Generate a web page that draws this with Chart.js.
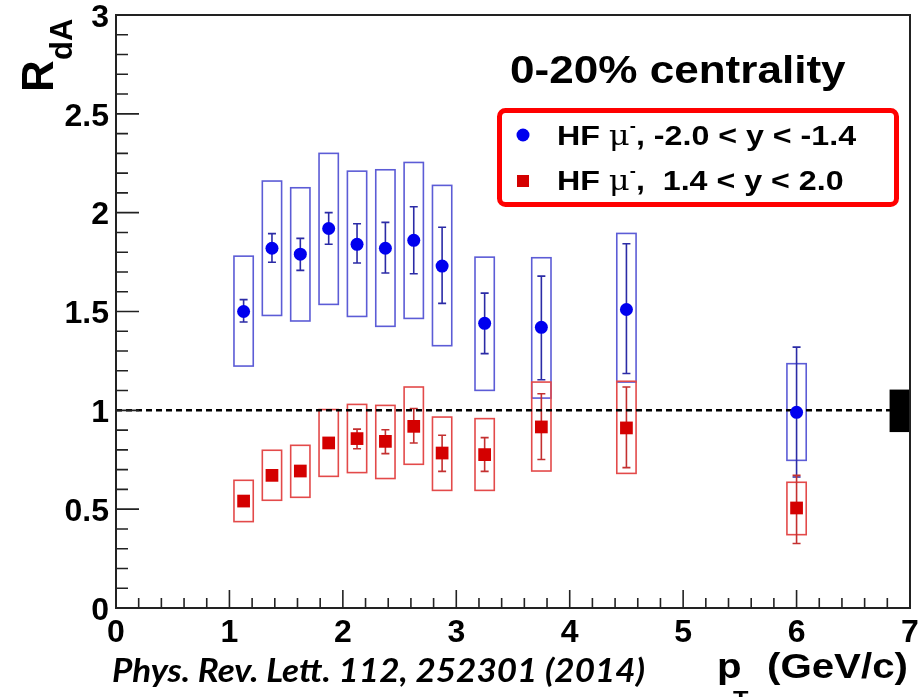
<!DOCTYPE html>
<html>
<head>
<meta charset="utf-8">
<script src="https://cdn.jsdelivr.net/npm/chart.js@4.4.1/dist/chart.umd.min.js"></script>
<style>
  html, body { margin: 0; padding: 0; background: #fff; }
  #wrap { width: 920px; height: 697px; position: relative; }
</style>
</head>
<body>
<div id="wrap"><canvas id="chart"></canvas></div>
<script>
// R_dA vs pT, HF muons, 0-20% centrality
const pT = [1.125, 1.375, 1.625, 1.875, 2.125, 2.375, 2.625, 2.875, 3.25, 3.75, 4.5, 6.0];

// backward rapidity (blue)
const blueVal    = [1.50, 1.82, 1.79, 1.92, 1.84, 1.82, 1.86, 1.73, 1.44, 1.42, 1.51, 0.99];
const blueStatLo = [1.447, 1.749, 1.708, 1.84, 1.745, 1.695, 1.691, 1.541, 1.287, 1.155, 1.186, 0.663];
const blueStatHi = [1.56, 1.894, 1.87, 2.0, 1.944, 1.951, 2.03, 1.926, 1.593, 1.679, 1.843, 1.32];
const blueSysLo  = [1.224, 1.48, 1.452, 1.536, 1.475, 1.425, 1.465, 1.327, 1.101, 1.062, 1.143, 0.747];
const blueSysHi  = [1.78, 2.16, 2.126, 2.30, 2.21, 2.217, 2.254, 2.138, 1.775, 1.772, 1.895, 1.236];

// forward rapidity (red)
const redVal    = [0.541, 0.671, 0.693, 0.835, 0.857, 0.843, 0.919, 0.784, 0.776, 0.916, 0.911, 0.506];
const redStatLo = [0.52, 0.65, 0.675, 0.815, 0.806, 0.781, 0.835, 0.691, 0.691, 0.751, 0.71, 0.326];
const redStatHi = [0.56, 0.69, 0.71, 0.855, 0.905, 0.902, 1.009, 0.874, 0.862, 1.084, 1.118, 0.671];
const redSysLo  = [0.437, 0.545, 0.56, 0.666, 0.685, 0.655, 0.727, 0.595, 0.595, 0.693, 0.681, 0.371];
const redSysHi  = [0.646, 0.798, 0.823, 1.004, 1.03, 1.025, 1.118, 0.966, 0.958, 1.143, 1.147, 0.636];

// global normalisation uncertainty at the right edge
const normX = [6.82, 7.0];
const normY = [0.89, 1.105];

const xTicks = [0, 1, 2, 3, 4, 5, 6, 7];
const yTicks = [0, 0.5, 1, 1.5, 2, 2.5, 3];
const refLine = [{x: 0, y: 1}, {x: 7, y: 1}];

const legendLabels = [
  {pre: 'HF ', post: ', -2.0 < y < -1.4'},
  {pre: 'HF ', post: ',  1.4 < y < 2.0'}
];

const BOX_HALF = 0.085;   // half width of systematic boxes (pT units)
const SX = 1.15;          // horizontal stretch of the original figure text

const series = [
  {val: blueVal, lo: blueStatLo, hi: blueStatHi, sLo: blueSysLo, sHi: blueSysHi,
   pt: '#0000ee', err: '#2b2ba6', box: '#5c5cd6'},
  {val: redVal, lo: redStatLo, hi: redStatHi, sLo: redSysLo, sHi: redSysHi,
   pt: '#d40000', err: '#c43030', box: '#e34a4a'}
];

function runs(ctx, parts, x, y, sx) {
  ctx.save();
  ctx.translate(x, y);
  ctx.scale(sx, 1);
  let cur = 0;
  parts.forEach(p => {
    ctx.font = p.font;
    ctx.fillText(p.t, cur + (p.dx || 0), p.dy || 0);
    cur += ctx.measureText(p.t).width + (p.dx || 0);
  });
  ctx.restore();
}

const rootPlot = {
  id: 'rootPlot',
  beforeDatasetsDraw(chart) {
    const {ctx, scales: {x, y}} = chart;
    ctx.save();
    // systematic boxes + stat error bars
    series.forEach(s => {
      pT.forEach((p, i) => {
        const x0 = x.getPixelForValue(p - BOX_HALF), x1 = x.getPixelForValue(p + BOX_HALF);
        const y0 = y.getPixelForValue(s.sHi[i]), y1 = y.getPixelForValue(s.sLo[i]);
        ctx.strokeStyle = s.box; ctx.lineWidth = 1.6;
        ctx.strokeRect(x0, y0, x1 - x0, y1 - y0);
      });
    });
    series.forEach(s => {
      pT.forEach((p, i) => {
        const xc = x.getPixelForValue(p);
        const ya = y.getPixelForValue(s.hi[i]), yb = y.getPixelForValue(s.lo[i]);
        ctx.strokeStyle = s.err; ctx.lineWidth = 1.6;
        ctx.beginPath();
        ctx.moveTo(xc, ya); ctx.lineTo(xc, yb);
        ctx.moveTo(xc - 4, ya); ctx.lineTo(xc + 4, ya);
        ctx.moveTo(xc - 4, yb); ctx.lineTo(xc + 4, yb);
        ctx.stroke();
      });
    });
    ctx.restore();
  },
  afterDatasetsDraw(chart) {
    const {ctx, chartArea: a, scales: {x, y}} = chart;
    ctx.save();
    // normalisation box
    ctx.fillStyle = '#000';
    const nx0 = x.getPixelForValue(normX[0]), nx1 = x.getPixelForValue(normX[1]);
    const ny0 = y.getPixelForValue(normY[1]), ny1 = y.getPixelForValue(normY[0]);
    ctx.fillRect(nx0, ny0, nx1 - nx0, ny1 - ny0);

    // frame
    ctx.strokeStyle = '#222'; ctx.lineWidth = 2;
    ctx.strokeRect(a.left, a.top, a.right - a.left, a.bottom - a.top);

    // inward ticks
    ctx.lineWidth = 1.6;
    ctx.beginPath();
    for (let i = 0; i <= 30; i++) {
      const py = y.getPixelForValue(i / 10);
      const len = i % 5 === 0 ? 23 : 12;
      ctx.moveTo(a.left, py); ctx.lineTo(a.left + len, py);
    }
    for (let i = 0; i <= 35; i++) {
      const px = x.getPixelForValue(i / 5);
      const len = i % 5 === 0 ? 18 : 10;
      ctx.moveTo(px, a.bottom); ctx.lineTo(px, a.bottom - len);
    }
    ctx.stroke();

    ctx.fillStyle = '#000';
    ctx.textBaseline = 'alphabetic';
    ctx.textAlign = 'left';

    // title
    runs(ctx, [{t: '0-20% centrality', font: 'bold 39px "Liberation Sans", Arial, sans-serif'}], 510, 83, 1.13);

    // legend
    ctx.strokeStyle = '#ff0000'; ctx.lineWidth = 5; ctx.lineJoin = 'round';
    ctx.beginPath();
    ctx.roundRect(499.5, 110.5, 397, 94, 6);
    ctx.stroke();
    const bl = [145, 190];
    chart.data.datasets.slice(0, 2).forEach((ds, k) => {
      ctx.fillStyle = ds.backgroundColor;
      ctx.beginPath();
      if (k === 0) ctx.arc(523, bl[k] - 10, 6.5, 0, Math.PI * 2);
      else ctx.rect(517, bl[k] - 15, 12, 12);
      ctx.fill();
      ctx.fillStyle = '#000';
      runs(ctx, [
        {t: legendLabels[k].pre, font: 'bold 28px "Liberation Sans", Arial, sans-serif'},
        {t: '\u03bc', font: '28px "DejaVu Serif", serif'},
        {t: '-', font: 'bold 16px "Liberation Sans", Arial, sans-serif', dy: -14},
        {t: legendLabels[k].post, font: 'bold 28px "Liberation Sans", Arial, sans-serif'}
      ], 557, bl[k], SX);
    });

    // y title R_dA
    ctx.save();
    ctx.translate(53, 92);
    ctx.rotate(-Math.PI / 2);
    ctx.font = 'bold 44px "Liberation Sans", Arial, sans-serif';
    ctx.fillText('R', 0, 0);
    ctx.font = 'bold 31px "Liberation Sans", Arial, sans-serif';
    ctx.fillText('dA', 32, 19);
    ctx.restore();

    // x title
    runs(ctx, [{t: 'p', font: 'bold 35px "Liberation Sans", Arial, sans-serif'}], 717, 678, SX);
    runs(ctx, [{t: 'T', font: 'bold 22px "Liberation Sans", Arial, sans-serif'}], 733, 706, SX);
    runs(ctx, [{t: '(GeV/c)', font: 'bold 35px "Liberation Sans", Arial, sans-serif'}], 767, 678, SX);

    // citation
    const cite = 'Phys. Rev. Lett. 112, 252301 (2014)';
    ctx.font = 'italic bold 33px Lato, "Open Sans", sans-serif';
    const w = ctx.measureText(cite).width;
    runs(ctx, [{t: cite, font: 'italic bold 33px Lato, "Open Sans", sans-serif'}], 112, 682, 533 / w);
    ctx.restore();
  }
};

const tickFont = {family: '"Liberation Sans", Arial, sans-serif', size: 32, weight: 'bold'};

new Chart(document.getElementById('chart'), {
  type: 'scatter',
  data: {
    datasets: [
      {label: 'blue', data: pT.map((p, i) => ({x: p, y: blueVal[i]})),
       backgroundColor: series[0].pt, borderWidth: 0, pointRadius: 6.5, pointStyle: 'circle'},
      {label: 'red', data: pT.map((p, i) => ({x: p, y: redVal[i]})),
       backgroundColor: series[1].pt, borderWidth: 0, pointRadius: 9, pointStyle: 'rect'},
      {label: 'ref', type: 'line', data: refLine, borderColor: '#000', borderWidth: 2.5,
       borderDash: [6, 4], pointRadius: 0, fill: false}
    ]
  },
  options: {
    responsive: true,
    maintainAspectRatio: false,
    animation: false,
    layout: {padding: {top: 15, right: 10, left: 0, bottom: 0}},
    plugins: {legend: {display: false}, tooltip: {enabled: false}},
    scales: {
      x: {
        type: 'linear', min: 0, max: 7,
        afterFit: s => { s.height = 89; s.paddingLeft = 0; s.paddingRight = 0; },
        afterBuildTicks: s => { s.ticks = xTicks.map(v => ({value: v})); },
        grid: {display: false, drawTicks: false},
        border: {display: false},
        ticks: {font: tickFont, color: '#000', padding: 6, maxRotation: 0, autoSkip: false,
                callback: v => String(v)}
      },
      y: {
        type: 'linear', min: 0, max: 3,
        afterFit: s => { s.width = 116; s.paddingTop = 0; s.paddingBottom = 0; },
        afterBuildTicks: s => { s.ticks = yTicks.map(v => ({value: v})); },
        grid: {display: false, drawTicks: false},
        border: {display: false},
        ticks: {font: tickFont, color: '#000', padding: 7, labelOffset: 3, autoSkip: false,
                callback: v => String(v)}
      }
    }
  },
  plugins: [rootPlot]
});
</script>
</body>
</html>
